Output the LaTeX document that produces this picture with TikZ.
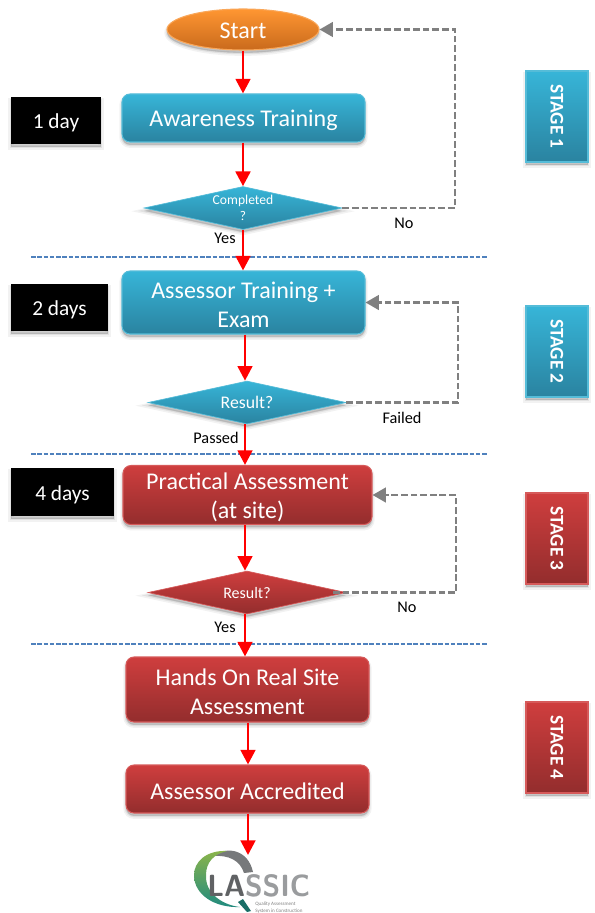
\documentclass[tikz,border=0pt]{standalone}
\usepackage{fontspec}
\setmainfont{Carlito}
\usetikzlibrary{shapes.geometric,arrows.meta,calc}
\definecolor{blueT}{HTML}{37B5D8}
\definecolor{blueB}{HTML}{2A83A0}
\definecolor{blueE}{HTML}{55BCD8}
\definecolor{redT}{HTML}{CF3E3E}
\definecolor{redB}{HTML}{932D2D}
\definecolor{redE}{HTML}{D65A5A}
\definecolor{orT}{HTML}{FF9632}
\definecolor{orB}{HTML}{C96A1C}
\definecolor{orE}{HTML}{F9A75A}
\definecolor{sepline}{HTML}{4F81BD}
\definecolor{logoG}{HTML}{77797B}
\definecolor{logoL}{HTML}{9A9C9E}
\definecolor{logoD}{HTML}{606264}
\definecolor{logoT}{HTML}{8CB54A}
\definecolor{logoB}{HTML}{1F8A80}
\newcommand\dnbig{\rule{0pt}{16pt}}
\newcommand\dnday{\rule{0pt}{15pt}}
\tikzset{
  softshadow/.style={
    preaction={fill=black,draw=black,fill opacity=.05,draw opacity=.05,line width=4pt,transform canvas={yshift=-2.4pt}},
    preaction={fill=black,draw=black,fill opacity=.07,draw opacity=.07,line width=2pt,transform canvas={yshift=-2.2pt}},
    preaction={fill=black,fill opacity=.08,transform canvas={yshift=-2pt}}},
  blueshade/.style={top color=blueT,bottom color=blueB,draw=blueE},
  redshade/.style={top color=redT,bottom color=redB,draw=redE},
  procbox/.style={softshadow,rectangle,rounded corners=6pt,line width=.8pt,text=white,align=center,font=\fontsize{18}{22}\selectfont,inner sep=0pt,minimum width=243*.75pt},
  decision/.style={softshadow,diamond,line width=.5pt,text=white,align=center,inner sep=0pt,aspect=4.6,minimum width=198*.75pt,minimum height=43*.75pt},
  daybox/.style={softshadow,rectangle,fill=black,text=white,inner sep=0pt,font=\fontsize{16}{18}\selectfont},
  stagebox/.style={softshadow,rectangle,line width=.8pt,inner sep=0pt,minimum width=62*.75pt,minimum height=91*.75pt},
  stagetext/.style={text=white,font=\bfseries\fontsize{14.5}{16}\selectfont,rotate=-90},
  flow/.style={draw=red,line width=2.1pt,-{Triangle[length=11pt,width=11pt]}},
  back/.style={draw=gray,line width=1.7pt,dash pattern=on 5pt off 2.2pt,-{Triangle[length=10pt,width=11pt]}},
  sep/.style={draw=sepline,line width=.9pt,dash pattern=on 3.4pt off 1.3pt},
  lbl/.style={text=black,font=\fontsize{12.2}{14}\selectfont,inner sep=0pt}
}
\begin{document}
\begin{tikzpicture}[x=.75pt,y=-.75pt]
\useasboundingbox (0,0) rectangle (594,913);
% separators
\coordinate (s1a) at (31,257); \coordinate (s1b) at (487,257);
\coordinate (s2a) at (31,454);   \coordinate (s2b) at (487,454);
\coordinate (s3a) at (31,644);   \coordinate (s3b) at (487,644);
\draw[sep] (s1a) -- (s1b);
\draw[sep] (s2a) -- (s2b);
\draw[sep] (s3a) -- (s3b);
% main nodes
\node[softshadow,ellipse,top color=orT,bottom color=orB,draw=orE,line width=.8pt,text=white,inner sep=0pt,minimum width=152*.75pt,minimum height=41*.75pt,font=\fontsize{18}{22}\selectfont] (start) at (243,29.5) {\rule{0pt}{14pt}Start};
\node[procbox,blueshade,minimum height=48*.75pt] (aw) at (243.5,118) {\dnbig Awareness Training};
\node[decision,blueshade] (d1) at (243,208) {\fontsize{10.2}{15}\selectfont Completed\\ ?};
\node[procbox,blueshade,minimum height=63*.75pt] (as) at (243.5,302.5) {\dnbig Assessor Training +\\ Exam};
\node[decision,blueshade] (d2) at (247,402.5) {\fontsize{13.3}{15}\selectfont Result?};
\node[procbox,redshade,minimum width=249*.75pt,minimum height=59*.75pt] (pr) at (247.5,495) {\dnbig Practical Assessment\\ (at site)};
\node[decision,redshade] (d3) at (247,592.5) {\fontsize{12}{14}\selectfont Result?};
\node[procbox,redshade,minimum height=65*.75pt] (ha) at (247.5,689.5) {\dnbig Hands On Real Site\\ Assessment};
\node[procbox,redshade,minimum height=48*.75pt] (ac) at (247.5,789) {\dnbig Assessor Accredited};
% day boxes
\node[daybox,minimum width=90*.75pt,minimum height=47*.75pt] (t1) at (56,120.5) {\dnday 1 day};
\node[daybox,minimum width=97*.75pt,minimum height=47*.75pt] (t2) at (59.5,307.5) {\dnday 2 days};
\node[daybox,minimum width=103*.75pt,minimum height=48*.75pt] (t3) at (62.5,492) {\dnday 4 days};
% stages
\node[stagebox,blueshade] (st1) at (557,116.5) {};
\node[stagetext] at (st1) {STAGE 1};
\node[stagebox,blueshade] (st2) at (557,351.5) {};
\node[stagetext] at (st2) {STAGE 2};
\node[stagebox,redshade] (st3) at (557,538.5) {};
\node[stagetext] at (st3) {STAGE 3};
\node[stagebox,redshade] (st4) at (557,747.5) {};
\node[stagetext] at (st4) {STAGE 4};
% logo
\fill[logoG] (214,856) .. controls (226,846) and (248,849) .. (253,872) -- (244,873) .. controls (240,860) and (228,855) .. (214,856) -- cycle;
\shade[top color=logoT,bottom color=logoB] (227,851) .. controls (206,850) and (194,862) .. (194,875) .. controls (194,895) and (215,908) .. (240,907) .. controls (222,905) and (205,893) .. (206,875) .. controls (206,862) and (214,854) .. (227,851) -- cycle;
\fill[logoB!80!black] (238,902) -- (243,899) -- (251,911) -- (247,912) -- cycle;
\node[inner sep=0pt,anchor=west,text=logoL,font=\fontsize{23}{23}\sffamily\bfseries\selectfont,xscale=.94] (lg) at (207,885.5) {\textcolor{logoD}{LA}SSIC};
\node[inner sep=0pt,anchor=north west,align=left,text=gray,font=\fontsize{3.8}{5.2}\selectfont] (lgt) at (255,902) {Quality Assessment\\ System in Construction};
% flow arrows
\coordinate (c1) at (243,0);
\coordinate (c2) at (245,0);
\coordinate (c3) at (248,0);
\draw[flow] (start.south -| c1) -- (aw.north -| c1);
\draw[flow] (aw.south -| c1) -- (d1.north -| c1);
\draw[flow] (d1.south -| c1) -- (as.north -| c1);
\draw[flow] (as.south -| c2) -- (d2.north -| c2);
\draw[flow] (d2.south -| c2) -- (pr.north -| c2);
\draw[flow] (pr.south -| c2) -- (d3.north -| c2);
\draw[flow] (d3.south -| c2) -- (ha.north -| c2);
\draw[flow] (ha.south -| c3) -- (ac.north -| c3);
\coordinate (logotop) at (248,855);
\draw[flow] (ac.south -| c3) -- (logotop);
% back arrows
\coordinate (b1) at (455,0);
\coordinate (b2) at (458,0);
\coordinate (b3) at (456,0);
\draw[back] (d1.east) -- (d1.east -| b1) -- (start.east -| b1) -- (start.east);
\draw[back] (d2.east) -- (d2.east -| b2) -- (as.east -| b2) -- (as.east);
\draw[back] ([xshift=-10pt]d3.east) -- (d3.east -| b3) -- (pr.east -| b3) -- (pr.east);
% labels
\node[lbl] at (404,223) {No};
\node[lbl] at (225,238) {Yes};
\node[lbl] at (402,418) {Failed};
\node[lbl] at (216,438) {Passed};
\node[lbl] at (407,607) {No};
\node[lbl] at (225,627) {Yes};
\end{tikzpicture}
\end{document}
